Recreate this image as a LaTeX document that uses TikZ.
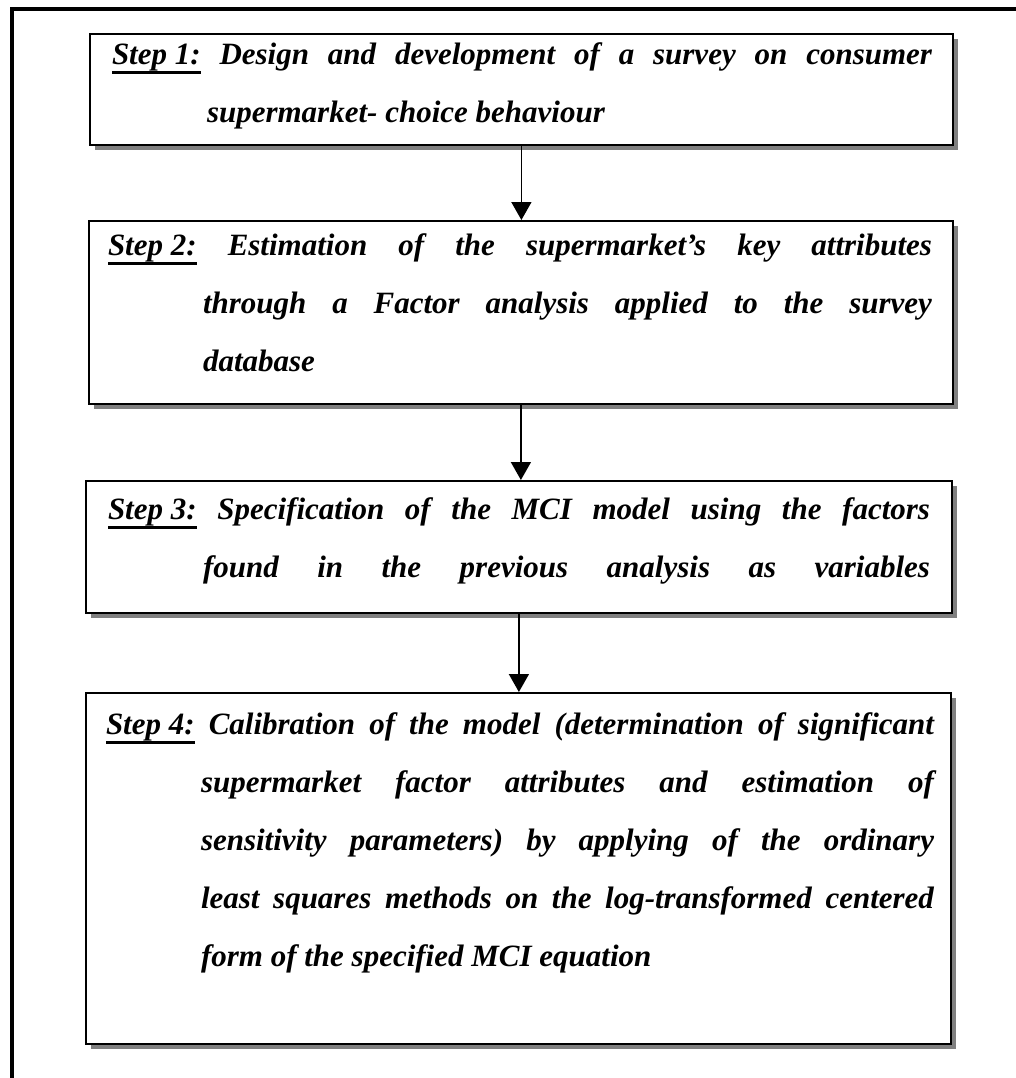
\documentclass[tikz,border=0pt]{standalone}
\usepackage{fontspec}
\setmainfont{Liberation Serif}
\usetikzlibrary{arrows.meta,shadows}
\newcommand\stepul[1]{\setbox0=\hbox{#1}\rlap{\rule[-9.5pt]{\wd0}{3pt}}\box0\relax}
\newcommand\steptext[3]{\parbox[t]{#1}{\fontsize{31}{58}\selectfont\bfseries\itshape
  \hyphenpenalty=10000 \exhyphenpenalty=10000 \emergencystretch=3em \tolerance=9999
  \hangindent=95pt \hangafter=1 \noindent #3\par}}
\tikzset{
  x=1pt, y=1pt,
  stepbox/.style={draw, line width=1.8pt, fill=white, anchor=north west, inner sep=0pt,
    drop shadow={shadow xshift=5pt, shadow yshift=-5pt, fill=black!50, opacity=1}},
  steptxt/.style={anchor=base west, inner sep=0pt, outer sep=0pt},
  flow/.style={line width=1.6pt, -{Triangle[width=20pt,length=18pt]}},
  frame/.style={line width=3.5pt}
}
\begin{document}
\begin{tikzpicture}
\useasboundingbox (0,0) rectangle (1016,-1078);
\coordinate (ftop) at (1016,-9);
\coordinate (fbot) at (12,-1078);
\draw[frame] (fbot) -- (12,-9) -- (ftop);

\node[stepbox, minimum width=863pt, minimum height=111pt] (b1) at (89,-33) {};
\node[stepbox, minimum width=864pt, minimum height=183pt] (b2) at (88,-220) {};
\node[stepbox, minimum width=866pt, minimum height=132pt] (b3) at (85,-480) {};
\node[stepbox, minimum width=865pt, minimum height=351pt] (b4) at (85,-692) {};

\node[steptxt] (t1) at (112,-65) {\steptext{820pt}{}{\stepul{Step 1:} Design and development of a survey on consumer\linebreak supermarket- choice behaviour}};
\node[steptxt] (t2) at (108,-255) {\steptext{824pt}{}{\stepul{Step 2:} Estimation of the supermarket’s key attributes\linebreak through a Factor analysis applied to the survey\linebreak database}};
\node[steptxt] (t3) at (108,-519) {\steptext{822pt}{}{\parfillskip=0pt \stepul{Step 3:} Specification of the MCI model using the factors\linebreak found in the previous analysis as variables}};
\node[steptxt] (t4) at (106,-734) {\steptext{828pt}{}{\stepul{Step 4:} Calibration of the model (determination of significant\linebreak supermarket factor attributes and estimation of\linebreak sensitivity parameters) by applying of the ordinary\linebreak least squares methods on the log-transformed centered\linebreak form of the specified MCI equation}};

\draw[flow] (b1.south) -- (b1.south |- b2.north);
\draw[flow] (b2.south) -- (b2.south |- b3.north);
\draw[flow] (b3.south) -- (b3.south |- b4.north);
\end{tikzpicture}
\end{document}
